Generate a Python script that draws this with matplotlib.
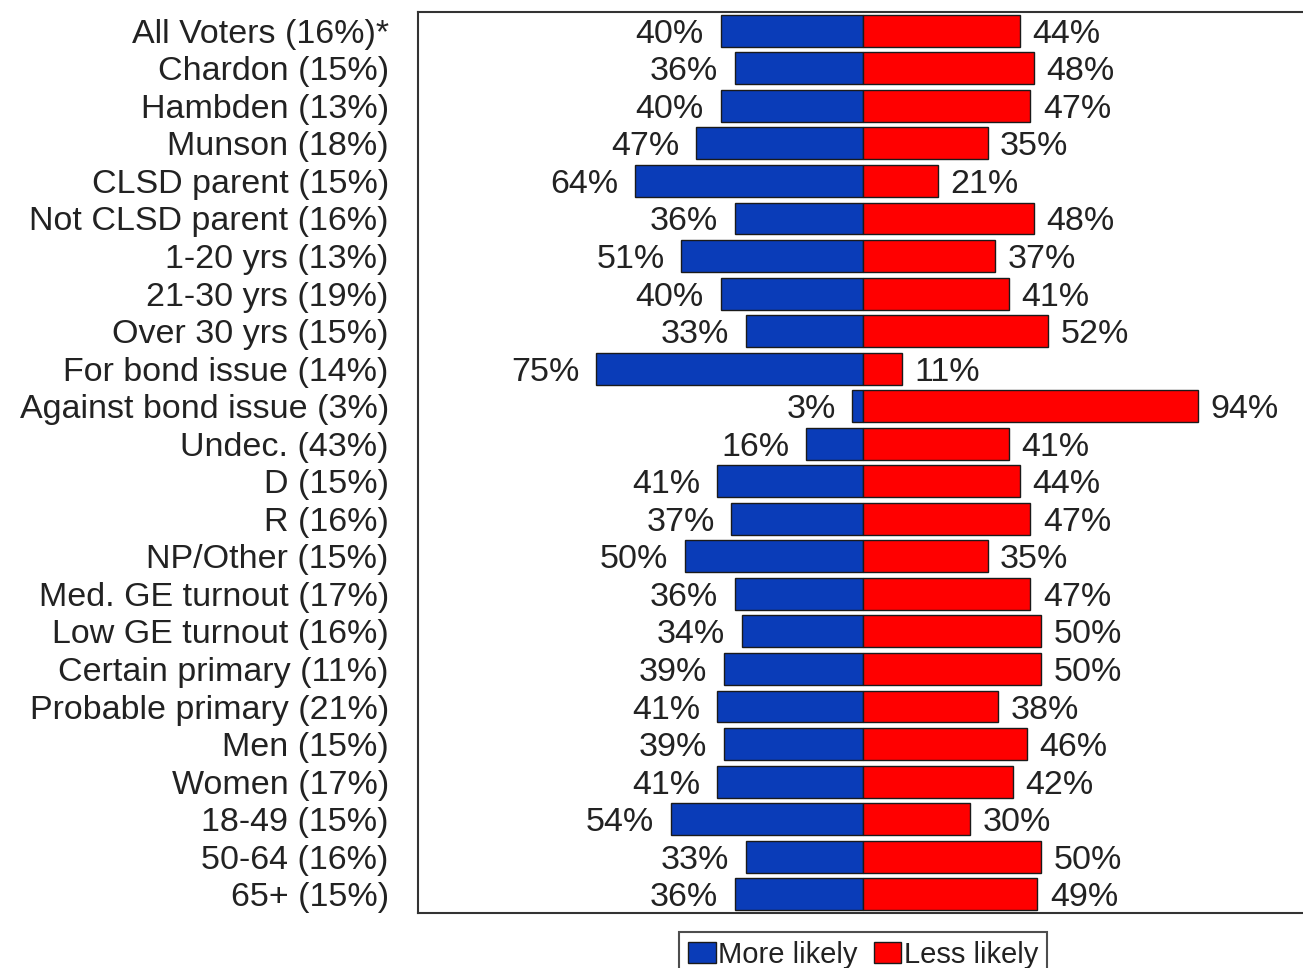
import matplotlib.pyplot as plt
from matplotlib.patches import Patch

plt.rcParams['font.family'] = ['Liberation Sans', 'DejaVu Sans']

categories = [
  "All Voters (16%)*", "Chardon (15%)", "Hambden (13%)", "Munson (18%)",
  "CLSD parent (15%)", "Not CLSD parent (16%)", "1-20 yrs (13%)",
  "21-30 yrs (19%)", "Over 30 yrs (15%)", "For bond issue (14%)",
  "Against bond issue (3%)", "Undec. (43%)", "D (15%)", "R (16%)",
  "NP/Other (15%)", "Med. GE turnout (17%)", "Low GE turnout (16%)",
  "Certain primary (11%)", "Probable primary (21%)", "Men (15%)",
  "Women (17%)", "18-49 (15%)", "50-64 (16%)", "65+ (15%)",
]
more_likely = [40, 36, 40, 47, 64, 36, 51, 40, 33, 75, 3, 16,
               41, 37, 50, 36, 34, 39, 41, 39, 41, 54, 33, 36]
less_likely = [44, 48, 47, 35, 21, 48, 37, 41, 52, 11, 94, 41,
               44, 47, 35, 47, 50, 50, 38, 46, 42, 30, 50, 49]

BLUE = "#0A3CB8"
RED = "#FF0000"
EDGE = "#1a1a1a"
TEXT = "#222222"

fig = plt.figure(figsize = (13.03, 9.68), dpi = 100)
ax = fig.add_axes([418 / 1303, 1 - 913 / 968, 1 - 418 / 1303, (913 - 12) / 968])

y = list(range(len(categories)))

ax.barh(y, [-v for v in more_likely], height = 0.85,
  color = BLUE, edgecolor = EDGE, linewidth = 1)
ax.barh(y, less_likely, height = 0.85,
  color = RED, edgecolor = EDGE, linewidth = 1)

# value labels
#
for i in y:
  ax.annotate(f"{more_likely[i]}%", (-more_likely[i], i),
    xytext = (-12, 0), textcoords = "offset points",
    ha = "right", va = "center_baseline", fontsize = 24.5, color = TEXT)
  ax.annotate(f"{less_likely[i]}%", (less_likely[i], i),
    xytext = (9, 0), textcoords = "offset points",
    ha = "left", va = "center_baseline", fontsize = 24.5, color = TEXT)

ax.set_xlim(-125, 123.6)
ax.set_ylim(len(categories) - 0.5, -0.5)
ax.set_xticks([])
ax.set_yticks(y)
ax.set_yticklabels(categories, fontsize = 24.5, color = TEXT)
ax.tick_params(axis = "y", length = 0, pad = 21)

for side in ["left", "top", "bottom"]:
  ax.spines[side].set_linewidth(1.5)
  ax.spines[side].set_color("#333333")
ax.spines["right"].set_visible(False)

handles = [
  Patch(facecolor = BLUE, edgecolor = EDGE, label = "More likely"),
  Patch(facecolor = RED, edgecolor = EDGE, label = "Less likely"),
]
leg = fig.legend(handles = handles, loc = "upper center",
  bbox_to_anchor = (863 / 1303, 1 - 932 / 968),
  ncol = 2, fontsize = 21, frameon = True, fancybox = False,
  handlelength = 0.95, handleheight = 0.7, handletextpad = 0.08,
  columnspacing = 0.55, borderpad = 0.3, borderaxespad = 0)
leg.get_frame().set_edgecolor(TEXT)
leg.get_frame().set_linewidth(1.5)
for t in leg.get_texts():
  t.set_color(TEXT)

fig.savefig("out.png", dpi = 100)
